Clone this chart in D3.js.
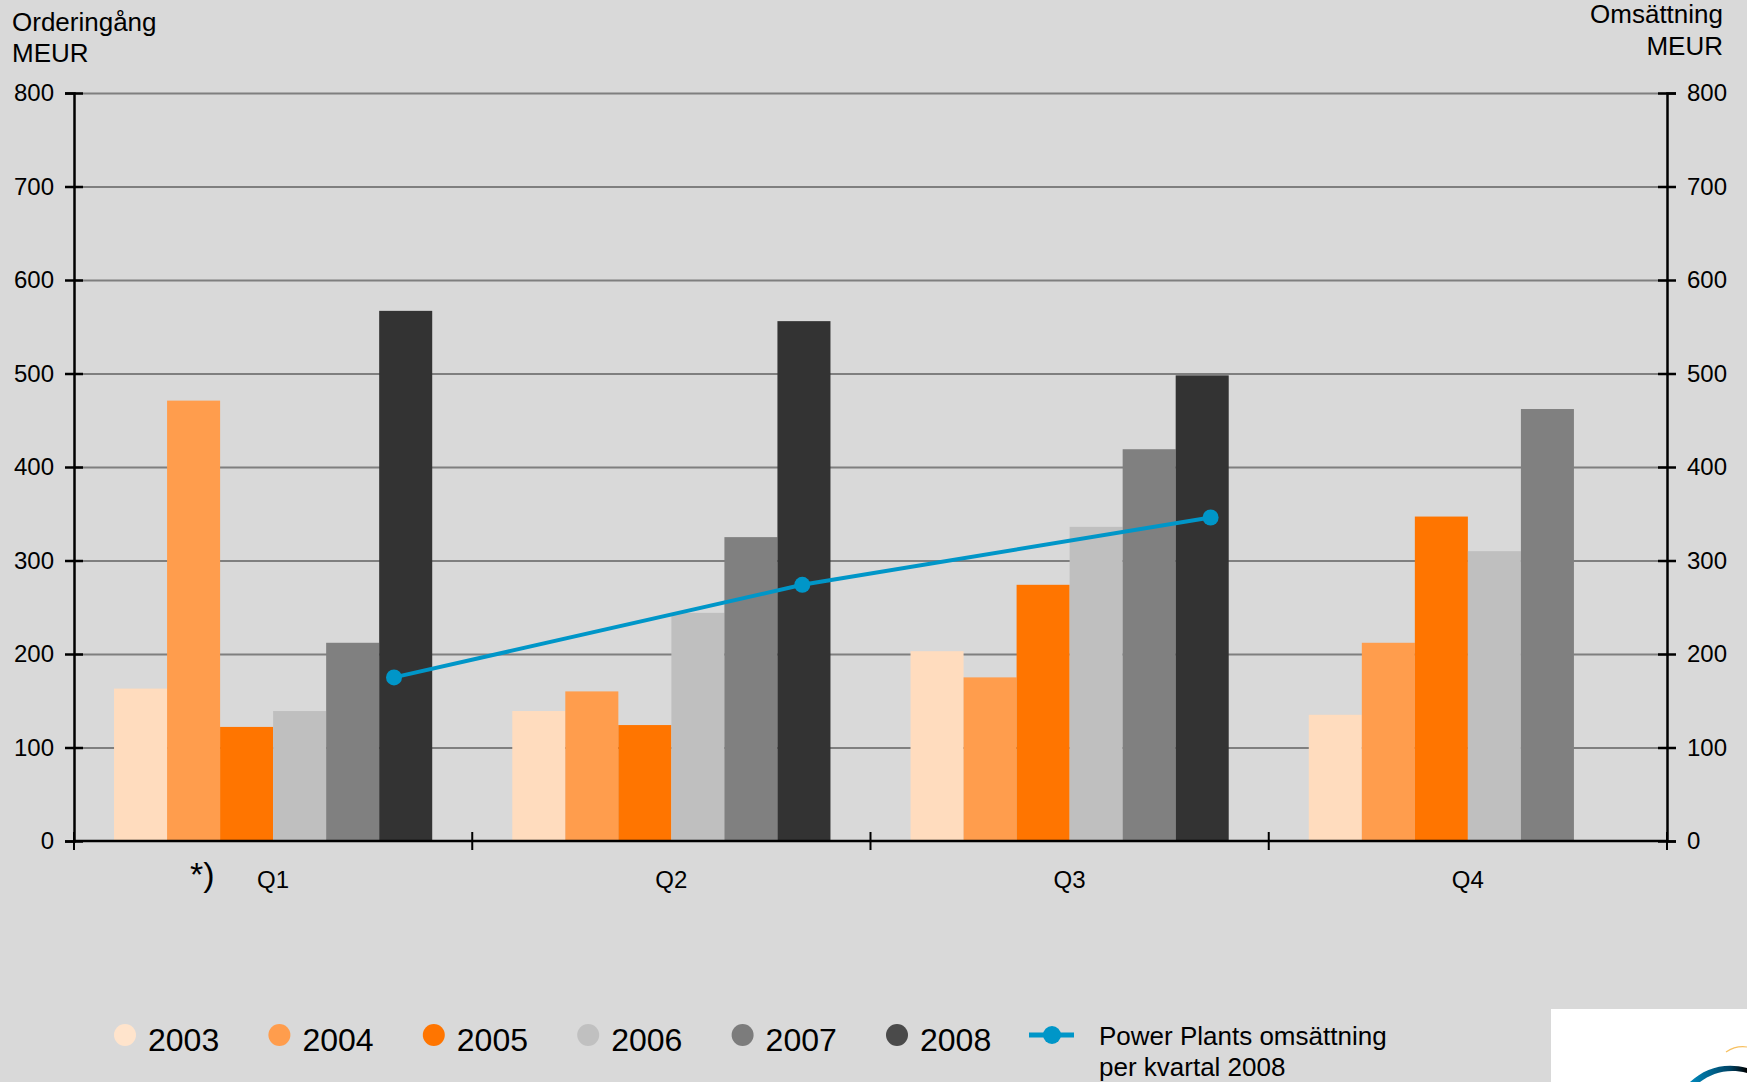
<!DOCTYPE html>
<html>
<head>
<meta charset="utf-8">
<script src="https://cdn.jsdelivr.net/npm/d3@7"></script>
<style>
  body { margin: 0; background: #d9d9d9; }
  svg { display: block; font-family: "Liberation Sans", Arial, sans-serif; }
</style>
</head>
<body>
<div id="chart"></div>
<script>
// data (MEUR)
const quarters = ["Q1", "Q2", "Q3", "Q4"];
const years = ["2003", "2004", "2005", "2006", "2007", "2008"];
const v2003 = [163, 139, 203, 135];
const v2004 = [471, 160, 175, 212];
const v2005 = [122, 124, 274, 347];
const v2006 = [139, 244, 336, 310];
const v2007 = [212, 325, 419, 462];
const v2008 = [567, 556, 498, null];
const plantSales = [175, 274, 346]; // Power Plants omsättning per kvartal 2008
const yTicks = [0, 100, 200, 300, 400, 500, 600, 700, 800];
const colors = ["#ffdcbe", "#ff9d4d", "#ff7500", "#bfbfbf", "#808080", "#333333"];
const legendColors = ["#ffe4cc", "#ff9d4d", "#ff7500", "#c0c0c0", "#7c7c7c", "#4a4a4a"];

const series = [v2003, v2004, v2005, v2006, v2007, v2008];

const W = 1747, H = 1082;
const m = { top: 93, right: 80, bottom: 241, left: 74 };

const svg = d3.select("#chart").append("svg")
  .attr("width", W)
  .attr("height", H);

svg.append("rect").attr("width", W).attr("height", H).attr("fill", "#d9d9d9");

const x0 = d3.scaleBand().domain(quarters).range([m.left, W - m.right]).paddingInner(0);
const x1 = d3.scaleBand().domain(years).range([0, x0.bandwidth()]).paddingInner(0).paddingOuter(0.755);
const y = d3.scaleLinear().domain([0, 800]).range([H - m.bottom, m.top]);
// the line sits a bit right of the bar groups in the original
const xLine = d3.scalePoint().domain(quarters).range([m.left + 320, m.left + 320 + 3 * 408.3]);

// gridlines
svg.append("g")
  .attr("transform", `translate(${m.left},0)`)
  .call(d3.axisLeft(y).tickValues(yTicks.slice(1)).tickSize(-(W - m.left - m.right)).tickFormat(""))
  .call(g => g.select(".domain").remove())
  .call(g => g.selectAll("line").attr("stroke", "#7f7f7f").attr("stroke-width", 2));

// bars
quarters.forEach((q, qi) => {
  svg.append("g")
    .attr("transform", `translate(${x0(q)},0)`)
    .selectAll("rect")
    .data(years.map((yr, i) => ({ yr, v: series[i][qi], c: colors[i] })).filter(d => d.v != null))
    .enter()
    .append("rect")
    .attr("x", d => x1(d.yr))
    .attr("width", x1.bandwidth())
    .attr("y", d => y(d.v))
    .attr("height", d => y(0) - y(d.v))
    .attr("fill", d => d.c);
});

// left and right axes
const axL = svg.append("g")
  .attr("transform", `translate(${m.left},0)`)
  .call(d3.axisLeft(y).tickValues(yTicks).tickSize(9).tickPadding(12));
const axR = svg.append("g")
  .attr("transform", `translate(${W - m.right},0)`)
  .call(d3.axisRight(y).tickValues(yTicks).tickSize(9).tickPadding(12));
[axL, axR].forEach(a => {
  a.select(".domain").attr("stroke", "#000").attr("stroke-width", 2.5);
  a.selectAll(".tick line").attr("x1", -9).attr("x2", 9).attr("stroke", "#000").attr("stroke-width", 2.5);
  a.selectAll(".tick text").attr("font-size", 24).attr("fill", "#000").attr("font-family", "Liberation Sans, Arial");
});
axR.selectAll(".tick text").attr("x", 20);
axL.selectAll(".tick text").attr("x", -20);

// baseline + category ticks
svg.append("line")
  .attr("x1", m.left).attr("x2", W - m.right)
  .attr("y1", y(0)).attr("y2", y(0))
  .attr("stroke", "#000").attr("stroke-width", 2.5);
const bounds = quarters.map(q => x0(q)).concat([x0.range()[1]]);
svg.selectAll(".qtick").data(bounds).enter().append("line")
  .attr("x1", d => d).attr("x2", d => d)
  .attr("y1", y(0) - 9).attr("y2", y(0) + 9)
  .attr("stroke", "#000").attr("stroke-width", 2);
svg.selectAll(".qlabel").data(quarters).enter().append("text")
  .attr("x", d => x0(d) + x0.bandwidth() / 2)
  .attr("y", y(0) + 47)
  .attr("text-anchor", "middle")
  .attr("font-size", 24)
  .text(d => d);
svg.append("text")
  .attr("x", x0("Q1") + 116).attr("y", y(0) + 45)
  .attr("font-size", 34)
  .text("*)");

// line series
const line = d3.line().x((d, i) => xLine(quarters[i])).y(d => y(d));
svg.append("path")
  .datum(plantSales)
  .attr("d", line)
  .attr("fill", "none")
  .attr("stroke", "#0096c8")
  .attr("stroke-width", 4);
svg.selectAll(".pt").data(plantSales).enter().append("circle")
  .attr("cx", (d, i) => xLine(quarters[i]))
  .attr("cy", d => y(d))
  .attr("r", 8)
  .attr("fill", "#0096c8");

// axis titles
const tl = svg.append("text").attr("font-size", 26).attr("x", 12);
tl.append("tspan").attr("x", 12).attr("y", 31).text("Orderingång");
tl.append("tspan").attr("x", 12).attr("y", 62).text("MEUR");
const tr = svg.append("text").attr("font-size", 26).attr("text-anchor", "end");
tr.append("tspan").attr("x", 1723).attr("y", 23).text("Omsättning");
tr.append("tspan").attr("x", 1723).attr("y", 55).text("MEUR");

// legend
const leg = svg.append("g").attr("transform", "translate(125,1035)");
years.forEach((yr, i) => {
  const g = leg.append("g").attr("transform", `translate(${i * 154.4},0)`);
  g.append("circle").attr("r", 11).attr("fill", legendColors[i]);
  g.append("text").attr("x", 23).attr("y", 16).attr("font-size", 32).text(yr);
});
const lg = leg.append("g").attr("transform", "translate(927,0)");
lg.append("line").attr("x1", -23).attr("x2", 22).attr("stroke", "#0096c8").attr("stroke-width", 5);
lg.append("circle").attr("r", 9).attr("fill", "#0096c8");
const lt = lg.append("text").attr("font-size", 26);
lt.append("tspan").attr("x", 47).attr("y", 10).text("Power Plants omsättning");
lt.append("tspan").attr("x", 47).attr("y", 41).text("per kvartal 2008");

// corner logo fragment
svg.append("rect").attr("x", 1551).attr("y", 1009).attr("width", W - 1551).attr("height", H - 1009).attr("fill", "#fff");
const grad = svg.append("defs").append("linearGradient").attr("id", "sw").attr("x1", 0).attr("x2", 1);
grad.append("stop").attr("offset", 0).attr("stop-color", "#0088bb");
grad.append("stop").attr("offset", 0.7).attr("stop-color", "#004466");
grad.append("stop").attr("offset", 1).attr("stop-color", "#000");
svg.append("path")
  .attr("d", "M1690,1082 C1705,1068 1725,1062 1747,1068 L1747,1073 C1728,1068 1712,1073 1700,1082 Z")
  .attr("fill", "url(#sw)");
svg.append("path")
  .attr("d", "M1726,1052 C1732,1048 1740,1046 1747,1047")
  .attr("fill", "none").attr("stroke", "#f7c060").attr("stroke-width", 1.2);
</script>
</body>
</html>
